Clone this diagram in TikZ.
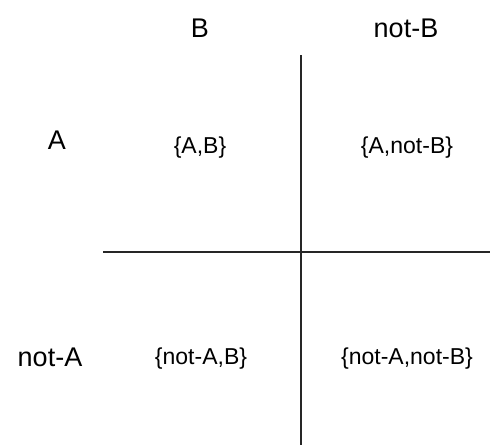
\documentclass[tikz,border=0pt]{standalone}
\usepackage{fontspec}
\setmainfont{Liberation Sans}

\tikzset{
  head/.style={anchor=base, inner sep=0pt, font=\fontsize{27}{32}\selectfont},
  cell/.style={anchor=base, inner sep=0pt, font=\fontsize{23}{28}\selectfont},
  rule/.style={line width=1.4pt, black!85}
}

\begin{document}
\begin{tikzpicture}[x=1pt,y=-1pt]
\useasboundingbox (0,0) rectangle (490,445);

% column and row labels
\node[head] (colB) at (200,37) {B};
\node[head] (colnotB) at (406,37) {not-B};
\node[head] (rowA) at (57,149) {A};
\node[head] (rownotA) at (50,366) {not-A};

% cells
\node[cell] (AB) at (200,153) {\{A,B\}};
\node[cell] (AnotB) at (407,153) {\{A,not-B\}};
\node[cell] (notAB) at (201,364) {\{not-A,B\}};
\node[cell] (notAnotB) at (407,364) {\{not-A,not-B\}};

% dividing lines
\coordinate (vtop) at (301,55);
\coordinate (vbot) at (301,445);
\coordinate (hleft) at (103,252);
\coordinate (hright) at (490,252);
\draw[rule] (vtop) -- (vbot);
\draw[rule] (hleft) -- (hright);
\end{tikzpicture}
\end{document}
